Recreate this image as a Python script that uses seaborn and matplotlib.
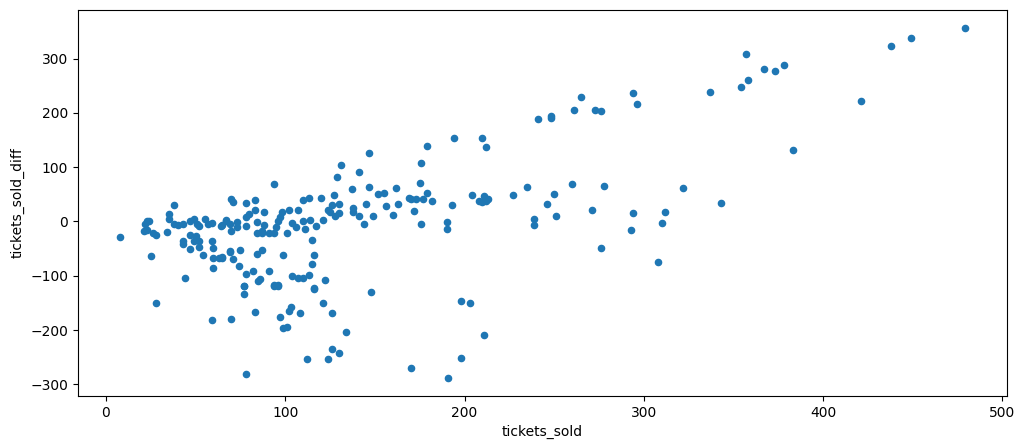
import pandas as pd
import matplotlib
matplotlib.use("Agg")
import matplotlib.pyplot as plt
import seaborn as sns

# values
tickets_sold = [
    8, 25, 44, 38, 35, 35, 23, 24, 22, 21, 23, 26, 28, 34, 38, 40, 43,
    47, 49, 51, 52, 55, 57, 59, 64, 67, 47, 50, 49, 52, 43, 43, 47, 52, 54,
    59, 60, 60, 63, 65, 60, 69, 28, 59, 70, 77, 77, 83, 78, 94, 96, 85,
    97, 102, 103, 99, 101, 108, 116, 121, 126, 134, 126, 130, 124, 112,
    148, 170, 191, 198, 203, 211, 198,
    131, 129, 94, 70, 71, 78, 83, 83, 88, 80, 78, 67, 65, 73, 73, 69, 70,
    78, 84, 88, 87, 84, 87, 91, 94, 95, 96, 97, 98, 101, 102, 107, 104,
    106, 110, 111, 114, 117, 121, 110, 113, 120, 115, 124, 126, 127, 130,
    130, 128, 125, 65, 69, 71, 75, 74, 78, 82, 86, 84, 87, 77, 91, 99, 94,
    96, 104, 107, 110, 113, 116, 115, 122, 116,
    194, 210, 212, 179, 147, 176, 141, 175, 137, 147, 152, 155, 162, 179,
    169, 170, 173, 177, 182, 204, 211, 213, 208, 210, 212, 193, 138, 138,
    141, 145, 149, 144, 156, 163, 160, 172, 176, 190, 190,
    241, 248, 248, 261, 265, 273, 276, 294, 296, 227, 235, 250, 246, 251,
    239, 239, 260, 278, 271, 276, 294, 293, 312, 310, 308, 322,
    337, 357, 354, 358, 367, 373, 378, 383, 343, 421, 438, 449, 479,
]
tickets_sold_diff = [
    -28, -64, -104, 30, 13, 5, 0, 1, -5, -17, -16, -22, -25, -19, -4, -6,
    -5, 0, 4, -5, -8, 4, -4, -3, -8, 1, -24, -27, -36, -36, -36, -42, -51,
    -47, -62, -36, -48, -68, -68, -67, -86, -54, -151, -182, -179, -118,
    -134, -166, -280, -117, -117, -110, -176, -164, -158, -197, -195, -169,
    -125, -151, -169, -204, -234, -243, -254, -254,
    -129, -269, -289, -147, -151, -209, -252,
    104, 82, 69, 41, 35, 34, 39, 21, 17, 14, 9, 3, -6, -1, -11, -5, -18,
    -8, -1, -6, -17, -21, -21, -21, -21, -11, 1, 8, 18, -21, 22, 22, -2,
    -11, 0, -13, 2, -8, 3, 39, 44, 43, -35, 21, 30, 48, 16, 33, 10, 18,
    -65, -56, -69, -53, -82, -97, -91, -105, -59, -53, -118, -91, -62,
    -118, -118, -101, -104, -104, -99, -62, -78, -107, -122,
    154, 154, 137, 139, 126, 107, 91, 70, 59, 64, 50, 52, 61, 52, 43, 42,
    41, 41, 38, 48, 47, 41, 37, 35, 38, 30, 24, 17, 10, 32, 10, -5, 28,
    32, 12, 19, -5, -1, -14,
    189, 194, 190, 205, 229, 205, 203, 237, 216, 48, 63, 50, 32, 10, 5, -7,
    69, 65, 21, -48, 15, -16, 17, -3, -75, 61,
    239, 309, 248, 261, 281, 277, 288, 131, 34, 222, 323, 338, 357,
]

df = pd.DataFrame({"tickets_sold": tickets_sold, "tickets_sold_diff": tickets_sold_diff})

fig = plt.figure(figsize=(10.27, 4.48), dpi=100)
ax = fig.add_axes([78 / 1027, 52 / 448, 929 / 1027, 386 / 448])
sns.scatterplot(data=df, x="tickets_sold", y="tickets_sold_diff", ax=ax,
                color="#1f77b4", s=20, edgecolor="#1f77b4", linewidth=1)
ax.set_xlabel("tickets_sold")
ax.set_ylabel("tickets_sold_diff")
fig.savefig("out.png", dpi=100)
